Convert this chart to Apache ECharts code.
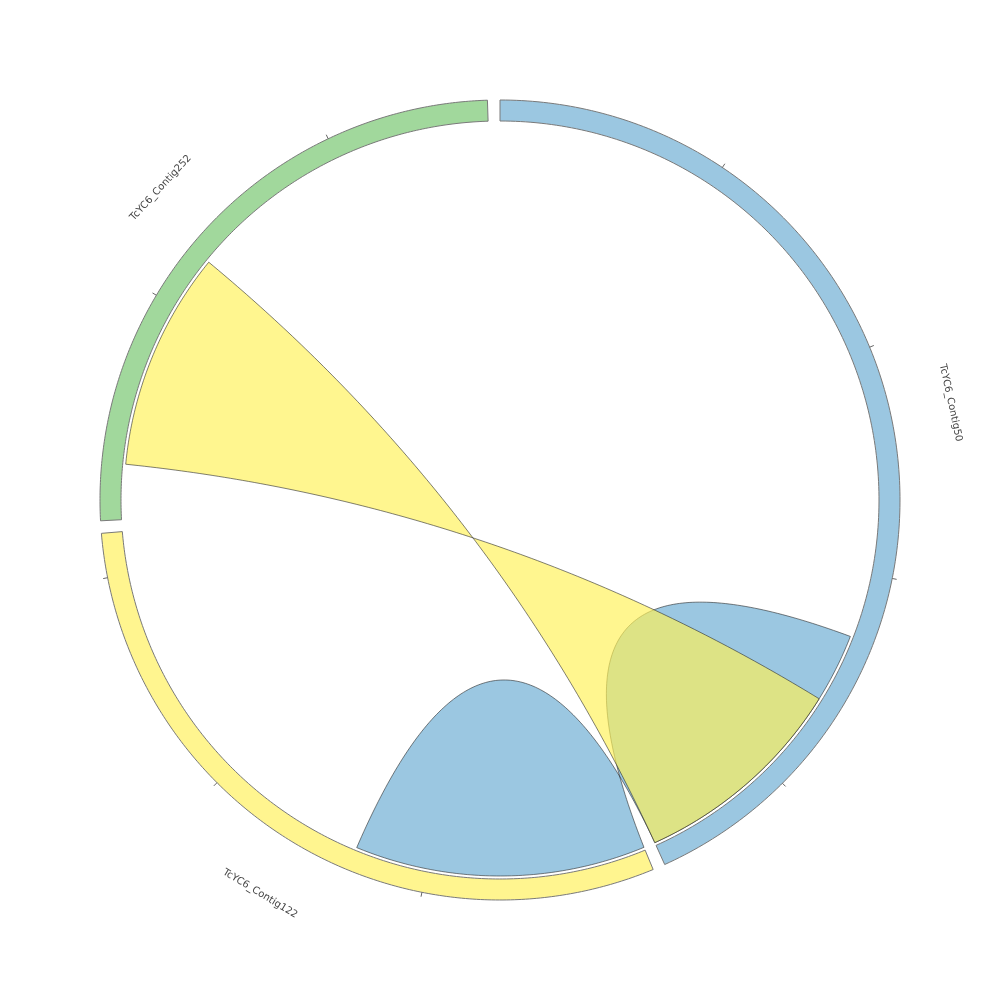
<!DOCTYPE html>
<html><head><meta charset="utf-8">
<script src="https://cdn.jsdelivr.net/npm/echarts@6/dist/echarts.min.js"></script>
<style>html,body{margin:0;padding:0;background:#fff}#c{width:1000px;height:1000px}</style>
</head><body><div id="c"></div>
<script>
// ---- data ----
const segmentNames = ['TcYC6_Contig50', 'TcYC6_Contig122', 'TcYC6_Contig252'];
const segmentLengths = [46.1, 31.9, 27.0];          // kb
const segmentColors = ['#9bc7e1', '#fff58f', '#a1d89c'];
const tickStep = 10;                                  // kb
// links (ribbons): source segment/start/end, target segment/start/end (kb)
const linkSourceSeg = [0, 2];
const linkSourceStart = [32.95, 12.5];
const linkSourceEnd = [46.1, 2.5];
const linkTargetSeg = [1, 0];
const linkTargetStart = [13.3, 36.1];
const linkTargetEnd = [0.0, 46.1];
const linkColors = ['#9bc7e1', 'rgba(255,241,85,0.66)'];

// ---- layout constants ----
const GAP_DEG = 1.8;
const R_OUT = 400, R_IN = 379, R_LINK = 376, TICK_LEN = 4.5, R_LABEL = 461;
const CREST = 20;   // bezier control point pull (px) for short chords

const n = segmentLengths.length;
const total = segmentLengths.reduce((a, b) => a + b, 0);
const gapUnits = total * GAP_DEG / (360 - n * GAP_DEG);
const axisMax = total + n * gapUnits;
const offsets = [];
{ let acc = 0; for (let i = 0; i < n; i++) { offsets.push(acc); acc += segmentLengths[i] + gapUnits; } }

function arcPts(api, r, a, b, N) {
  const pts = [];
  for (let k = 0; k <= N; k++) pts.push(api.coord([r, a + (b - a) * k / N]));
  return pts;
}
function ctrlPoint(p0, p2, c) {
  const u1 = [p0[0] - c[0], p0[1] - c[1]], u2 = [p2[0] - c[0], p2[1] - c[1]];
  const l1 = Math.hypot(u1[0], u1[1]), l2 = Math.hypot(u2[0], u2[1]);
  const s = [u1[0] / l1 + u2[0] / l2, u1[1] / l1 + u2[1] / l2];
  const ls = Math.hypot(s[0], s[1]);
  if (ls < 1e-6) return c;
  const d = Math.acos(Math.max(-1, Math.min(1, (u1[0] * u2[0] + u1[1] * u2[1]) / (l1 * l2)))) * 180 / Math.PI;
  const rho = CREST * (1 - d / 180);
  return [c[0] + s[0] / ls * rho, c[1] + s[1] / ls * rho];
}
function bezPts(p0, c, p2, N) {
  const pts = [];
  for (let k = 1; k <= N; k++) {
    const t = k / N, u = 1 - t;
    pts.push([u * u * p0[0] + 2 * t * u * c[0] + t * t * p2[0], u * u * p0[1] + 2 * t * u * c[1] + t * t * p2[1]]);
  }
  return pts;
}

const tickData = [];
segmentLengths.forEach((len, i) => {
  for (let v = tickStep; v <= len; v += tickStep) tickData.push([0, offsets[i] + v, i]);
});

const chart = echarts.init(document.getElementById('c'), null, { renderer: 'canvas' });
chart.setOption({
  animation: false,
  backgroundColor: '#ffffff',
  polar: { center: ['50%', '50%'], radius: 500 },
  angleAxis: { type: 'value', min: 0, max: axisMax, startAngle: 90, clockwise: true, show: false },
  radiusAxis: { type: 'value', min: 0, max: 500, show: false },
  series: [
    {
      type: 'custom', coordinateSystem: 'polar', silent: true,
      data: segmentNames.map((nm, i) => [0, offsets[i], i]),
      renderItem: (params, api) => {
        const i = api.value(2);
        const a0 = offsets[i], a1 = offsets[i] + segmentLengths[i];
        const pts = arcPts(api, R_OUT, a0, a1, 200).concat(arcPts(api, R_IN, a1, a0, 200));
        return { type: 'polygon', shape: { points: pts },
          style: { fill: segmentColors[i], stroke: '#7a7a7a', lineWidth: 1 } };
      }
    },
    {
      type: 'custom', coordinateSystem: 'polar', silent: true,
      data: tickData,
      renderItem: (params, api) => {
        const v = api.value(1);
        const p1 = api.coord([R_OUT, v]), p2 = api.coord([R_OUT + TICK_LEN, v]);
        return { type: 'line', shape: { x1: p1[0], y1: p1[1], x2: p2[0], y2: p2[1] },
          style: { stroke: '#666', lineWidth: 1 } };
      }
    },
    {
      type: 'custom', coordinateSystem: 'polar', silent: true,
      data: segmentNames.map((nm, i) => [0, offsets[i] + segmentLengths[i] / 2, i]),
      renderItem: (params, api) => {
        const i = api.value(2);
        const c = api.coord([0, 0]);
        const p = api.coord([R_LABEL, api.value(1)]);
        let th = Math.atan2(p[0] - c[0], -(p[1] - c[1])) * 180 / Math.PI;
        if (th < 0) th += 360;
        let phi = (th > 90 && th < 270) ? th - 180 : th;
        return { type: 'text', x: p[0], y: p[1], rotation: -phi * Math.PI / 180,
          style: { text: segmentNames[i], fill: '#444', font: '10px "DejaVu Sans", sans-serif',
            align: 'center', verticalAlign: 'middle' } };
      }
    },
    {
      type: 'custom', coordinateSystem: 'polar', silent: true,
      data: linkColors.map((col, k) => [0, 0, k]),
      renderItem: (params, api) => {
        const k = api.value(2);
        const c = api.coord([0, 0]);
        const s0 = offsets[linkSourceSeg[k]] + linkSourceStart[k];
        const s1 = offsets[linkSourceSeg[k]] + linkSourceEnd[k];
        const t0 = offsets[linkTargetSeg[k]] + linkTargetStart[k];
        const t1 = offsets[linkTargetSeg[k]] + linkTargetEnd[k];
        const arcS = arcPts(api, R_LINK, s0, s1, 80);
        const arcT = arcPts(api, R_LINK, t0, t1, 80);
        const a = arcS[arcS.length - 1], b = arcT[0], e = arcT[arcT.length - 1], f = arcS[0];
        let pts = arcS.slice();
        pts = pts.concat(bezPts(a, ctrlPoint(a, b, c), b, 120));
        pts = pts.concat(arcT.slice(1));
        pts = pts.concat(bezPts(e, ctrlPoint(e, f, c), f, 120));
        return { type: 'polygon', shape: { points: pts },
          style: { fill: linkColors[k], stroke: '#2a2a2a', lineWidth: 0.6 } };
      }
    }
  ]
});
</script>
</body></html>
